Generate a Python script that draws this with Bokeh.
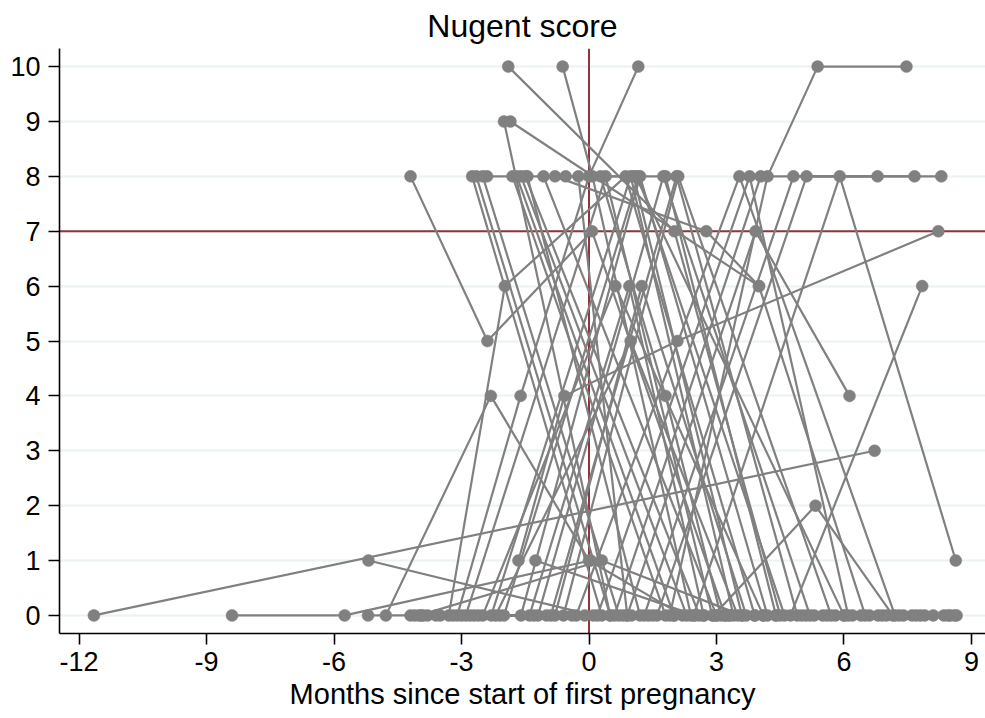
from bokeh.plotting import figure
from bokeh.models import Range1d, FixedTicker, Span, ColumnDataSource
from bokeh.embed import file_html
from bokeh.resources import INLINE

# ---- data: one entry per woman ----
months_by_subject = [
    [-11.65, 6.72],
    [-8.4, -5.75, 0.04],
    [-5.19, 0.1, 1.5],
    [-5.2, -4.1, -3.9],
    [-4.78, -2.31, 0.0, 2.2],
    [-4.2, -2.39, 0.07, 3.2],
    [-2.75, 0.3, 3.0],
    [-2.65, 0.5, 4.1],
    [-2.5, 0.7, 5.0],
    [-2.4, 1.05, 3.6],
    [-1.8, 1.8, 5.5],
    [-1.7, 2.0],
    [-1.6, 2.3, 6.0],
    [-1.5, 2.6],
    [-1.45, 1.2],
    [-1.07, 3.0, 7.0],
    [-0.8, 2.76, 4.0],
    [-0.55, 1.8, 4.4],
    [-0.25, 0.9],
    [-2.0, 0.5, 3.3],
    [-1.85, 4.0, 6.5],
    [-1.9, 2.01, 4.5],
    [-0.62, 0.08, 2.4],
    [-3.1, -1.61, 0.0, 1.16],
    [1.9, 4.2, 5.38, 7.47],
    [-3.3, -1.98, 0.86, 3.9],
    [-2.9, 0.39, 2.9],
    [-2.3, 0.98, 3.4, 6.2],
    [-2.0, 1.16, 4.6],
    [-1.6, 1.2, 4.2],
    [-1.2, 1.75, 5.2],
    [-0.9, 2.06, 4.9],
    [-0.6, 2.1, 5.7],
    [-0.3, 3.54, 7.2],
    [0.2, 3.78, 6.1],
    [0.6, 4.04, 7.66],
    [1.3, 4.81, 8.29],
    [1.6, 5.12, 6.79],
    [2.46, 5.9, 8.63],
    [0.9, 3.92, 6.13],
    [-1.66, -0.58, 2.08, 8.22],
    [4.74, 7.84],
    [2.93, 5.33, 7.15],
    [-1.26, 2.5, 5.8],
    [-4.0, 0.3, 3.6],
    [0.27, 1.8, 3.1],
    [-2.2, 0.98, 3.5],
    [-2.5, 0.62, 4.1],
    [-1.4, 0.95, 2.7],
    [-0.8, 1.24, 3.7],
    [-4.2, -3.5, -1.0],
    [-3.95, -3.0, 0.8],
    [-3.8, -2.7, 1.0],
    [-3.6, -2.1, 2.0],
    [-3.2, -1.3, 3.2],
    [-2.8, -0.4, 2.7],
    [3.9, 6.4, 8.65],
    [4.4, 6.9, 8.5],
    [5.1, 7.4, 8.1],
    [5.6, 7.8, 8.6],
    [3.3, 6.6, 7.9],
    [-2.6, -0.1, 1.4],
    [1.1, 6.0, 7.6],
    [6.8, 7.3, 8.35],
    [5.3, 7.7, 8.45],
]
scores_by_subject = [
    [0, 3],
    [0, 0, 1],
    [1, 0, 0],
    [0, 0, 0],
    [0, 4, 1, 0],
    [8, 5, 7, 0],
    [8, 0, 0],
    [8, 0, 0],
    [8, 0, 0],
    [8, 8, 0],
    [8, 0, 0],
    [8, 0],
    [8, 0, 0],
    [8, 0],
    [8, 0],
    [8, 0, 0],
    [8, 7, 6],
    [8, 8, 0],
    [8, 0],
    [9, 0, 0],
    [9, 6, 0],
    [10, 7, 0],
    [10, 8, 0],
    [0, 4, 8, 10],
    [0, 8, 10, 10],
    [0, 6, 8, 0],
    [0, 8, 0],
    [0, 8, 0, 0],
    [0, 8, 0],
    [0, 8, 0],
    [0, 8, 0],
    [0, 8, 0],
    [0, 8, 0],
    [0, 8, 0],
    [0, 8, 0],
    [0, 8, 8],
    [0, 8, 8],
    [0, 8, 8],
    [0, 8, 1],
    [0, 7, 4],
    [1, 4, 5, 7],
    [0, 6],
    [0, 2, 0],
    [1, 0, 0],
    [0, 1, 0],
    [8, 4, 0],
    [0, 5, 0],
    [0, 6, 0],
    [0, 6, 0],
    [0, 6, 0],
    [0, 0, 0],
    [0, 0, 0],
    [0, 0, 0],
    [0, 0, 0],
    [0, 0, 0],
    [0, 0, 0],
    [0, 0, 0],
    [0, 0, 0],
    [0, 0, 0],
    [0, 0, 0],
    [0, 0, 0],
    [0, 0, 0],
    [8, 0, 0],
    [0, 0, 0],
    [0, 0, 0],
]
x_ticks = [-12, -9, -6, -3, 0, 3, 6, 9]
x_tick_labels = ["-12", "-9", "-6", "-3", "0", "3", "6", "9"]
y_ticks = [0, 1, 2, 3, 4, 5, 6, 7, 8, 9, 10]
ref_month = 0
ref_score = 7

# flatten for markers
xs = [m[:min(len(m), len(s))] for m, s in zip(months_by_subject, scores_by_subject)]
ys = [s[:min(len(m), len(s))] for m, s in zip(months_by_subject, scores_by_subject)]
all_months = [v for row in xs for v in row]
all_scores = [v for row in ys for v in row]

FONT = "Liberation Sans"
GRAY = "#808080"
RED = "#90353b"

p = figure(width=985, height=712,
           x_range=Range1d(-12.46, 9.33), y_range=Range1d(-0.33, 10.33),
           output_backend="svg", toolbar_location=None,
           min_border_left=59, min_border_right=0,
           min_border_top=48, min_border_bottom=60)
p.background_fill_color = "white"
p.border_fill_color = "white"
p.outline_line_color = None

p.title.text = "Nugent score"
p.title.align = "center"
p.title.text_font = FONT
p.title.text_font_size = "32px"
p.title.text_font_style = "normal"
p.title.text_color = "black"
p.title.standoff = 10

p.xgrid.visible = False
p.ygrid.ticker = FixedTicker(ticks=y_ticks)
p.ygrid.grid_line_color = "#eaf2f3"
p.ygrid.grid_line_width = 2

for ax in (p.xaxis[0], p.yaxis[0]):
    ax.axis_line_width = 1.6
    ax.axis_line_color = "black"
    ax.major_tick_line_width = 1.6
    ax.major_tick_line_color = "black"
    ax.major_tick_out = 11
    ax.major_tick_in = 0
    ax.minor_tick_line_color = None
    ax.major_label_text_font = FONT
    ax.major_label_text_font_size = "27px"
    ax.major_label_text_color = "black"

p.xaxis.ticker = FixedTicker(ticks=x_ticks)
p.xaxis.major_label_overrides = {t: s for t, s in zip(x_ticks, x_tick_labels)}
p.yaxis.ticker = FixedTicker(ticks=y_ticks)
p.xaxis.major_label_standoff = 7
p.yaxis.major_label_standoff = 8
p.xaxis.axis_label = "Months since start of first pregnancy"
p.xaxis.axis_label_text_font = FONT
p.xaxis.axis_label_text_font_size = "29px"
p.xaxis.axis_label_text_font_style = "normal"
p.xaxis.axis_label_text_color = "black"
p.xaxis.axis_label_standoff = 4

p.add_layout(Span(location=ref_month, dimension="height", line_color=RED,
                  line_width=2, level="underlay"))
p.add_layout(Span(location=ref_score, dimension="width", line_color=RED,
                  line_width=2, level="underlay"))

p.multi_line(xs=xs, ys=ys, line_color=GRAY, line_width=2.2)
src = ColumnDataSource(dict(x=all_months, y=all_scores))
p.scatter("x", "y", source=src, size=12, fill_color=GRAY, line_color=GRAY,
          line_width=0.5)

open("out.html", "w").write(file_html(p, INLINE))
